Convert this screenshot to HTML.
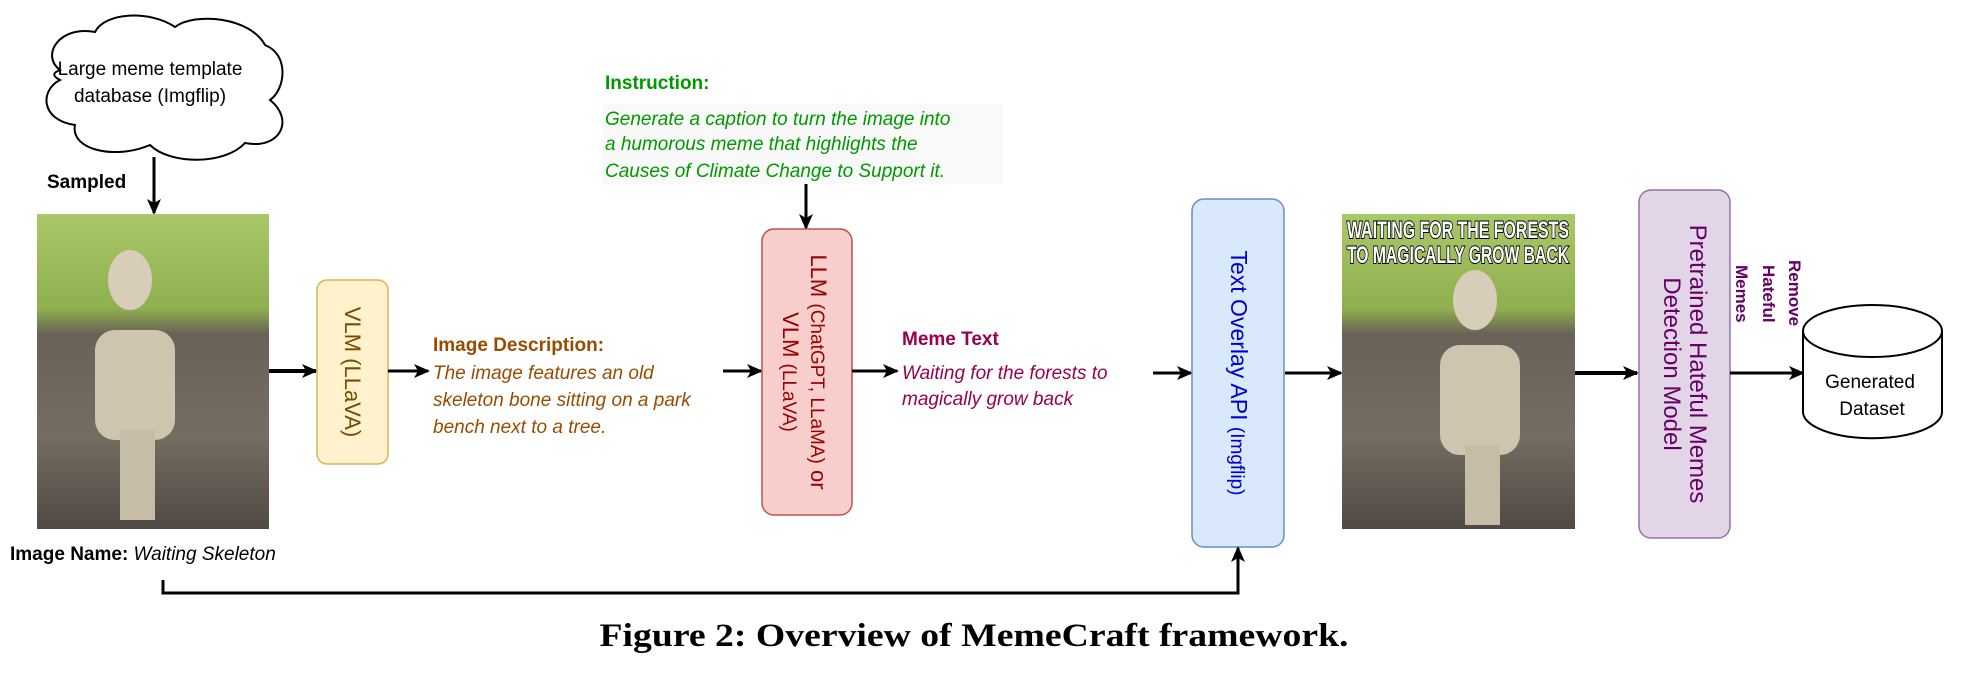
<!DOCTYPE html>
<html><head><meta charset="utf-8"><style>
html,body{margin:0;padding:0;background:#fff;width:1968px;height:674px;overflow:hidden}
svg{display:block}
</style></head><body>
<svg width="1968" height="674" viewBox="0 0 1968 674" xmlns="http://www.w3.org/2000/svg" font-family="Liberation Sans, sans-serif">
<defs>
<marker id="ah" markerWidth="16" markerHeight="16" refX="14" refY="8" orient="auto" markerUnits="userSpaceOnUse" viewBox="0 0 16 16">
<path d="M0,1 L16,8 L0,15 L4,8 Z" fill="#000"/></marker>
<linearGradient id="sk" x1="0" y1="0" x2="0" y2="1">
<stop offset="0" stop-color="#a9c86a"/><stop offset="0.3" stop-color="#8fb04e"/><stop offset="0.38" stop-color="#6a6258"/><stop offset="0.7" stop-color="#756d62"/><stop offset="1" stop-color="#4f4a44"/></linearGradient>
</defs>
<!-- cloud -->
<path d="M60,70 C40,55 60,25 95,32 C105,12 150,10 175,27 C195,12 250,17 265,45 C290,55 285,90 270,100 C295,120 280,150 245,143 C225,165 170,165 150,145 C115,160 70,150 75,125 C40,120 40,90 60,80 C50,75 55,72 60,70 Z" fill="#fff" stroke="#000" stroke-width="2"/>
<text x="150" y="75" font-size="19" text-anchor="middle">Large meme template</text>
<text x="150" y="102" font-size="19" text-anchor="middle">database (Imgflip)</text>
<line x1="154" y1="157" x2="154" y2="213" stroke="#000" stroke-width="3" marker-end="url(#ah)"/>
<text x="47" y="188" font-size="19" font-weight="bold">Sampled</text>
<!-- skeleton image -->
<rect x="37" y="214" width="232" height="315" fill="url(#sk)"/>
<ellipse cx="130" cy="280" rx="22" ry="30" fill="#d8cdb8"/>
<rect x="95" y="330" width="80" height="110" rx="20" fill="#cfc4ae"/>
<rect x="120" y="430" width="35" height="90" fill="#c7bca6"/>
<text x="10" y="560" font-size="19" font-weight="bold">Image Name: <tspan font-weight="normal" font-style="italic">Waiting Skeleton</tspan></text>
<line x1="269" y1="371" x2="316" y2="371" stroke="#000" stroke-width="4" marker-end="url(#ah)"/>
<!-- VLM -->
<rect x="317" y="280" width="71" height="184" rx="10" fill="#fff2cc" stroke="#d6b656" stroke-width="1.5"/>
<text transform="translate(345,372) rotate(90)" font-size="22" text-anchor="middle" fill="#7a4a00">VLM (LLaVA)</text>
<line x1="388" y1="371" x2="428" y2="371" stroke="#000" stroke-width="3" marker-end="url(#ah)"/>
<g fill="#994c00" font-size="19">
<text x="433" y="351" font-weight="bold">Image Description:</text>
<text x="433" y="379" font-style="italic">The image features an old</text>
<text x="433" y="406" font-style="italic">skeleton bone sitting on a park</text>
<text x="433" y="433" font-style="italic">bench next to a tree.</text>
</g>
<line x1="723" y1="371" x2="761" y2="371" stroke="#000" stroke-width="3" marker-end="url(#ah)"/>
<!-- instruction -->
<rect x="603" y="104" width="400" height="80" fill="#f9f9f9"/>
<g fill="#009900" font-size="19">
<text x="605" y="89" font-weight="bold">Instruction:</text>
<text x="605" y="125" font-style="italic">Generate a caption to turn the image into</text>
<text x="605" y="150" font-style="italic">a humorous meme that highlights the</text>
<text x="605" y="177" font-style="italic">Causes of Climate Change to Support it.</text>
</g>
<line x1="806" y1="184" x2="806" y2="228" stroke="#000" stroke-width="3" marker-end="url(#ah)"/>
<!-- LLM -->
<rect x="762" y="229" width="90" height="286" rx="12" fill="#f8cecc" stroke="#b85450" stroke-width="1.5"/>
<g fill="#990000">
<text transform="translate(811,372) rotate(90)" font-size="22" text-anchor="middle">LLM <tspan font-size="19">(ChatGPT, LLaMA)</tspan> or</text>
<text transform="translate(783,372) rotate(90)" font-size="22" text-anchor="middle">VLM <tspan font-size="19">(LLaVA)</tspan></text>
</g>
<line x1="852" y1="371" x2="897" y2="371" stroke="#000" stroke-width="3" marker-end="url(#ah)"/>
<g fill="#99004d" font-size="19">
<text x="902" y="345" font-weight="bold">Meme Text</text>
<text x="902" y="379" font-style="italic">Waiting for the forests to</text>
<text x="902" y="405" font-style="italic">magically grow back</text>
</g>
<line x1="1153" y1="373" x2="1191" y2="373" stroke="#000" stroke-width="3" marker-end="url(#ah)"/>
<!-- Text overlay -->
<rect x="1192" y="199" width="92" height="348" rx="12" fill="#dae8fc" stroke="#6c8ebf" stroke-width="1.5"/>
<text transform="translate(1231,373) rotate(90)" font-size="23" text-anchor="middle" fill="#0000cc">Text Overlay API <tspan font-size="19">(Imgflip)</tspan></text>
<line x1="1285" y1="373" x2="1341" y2="373" stroke="#000" stroke-width="3" marker-end="url(#ah)"/>
<!-- meme image -->
<rect x="1342" y="214" width="233" height="315" fill="url(#sk)"/>
<ellipse cx="1475" cy="300" rx="22" ry="30" fill="#d8cdb8"/>
<rect x="1440" y="345" width="80" height="110" rx="20" fill="#cfc4ae"/>
<rect x="1465" y="445" width="35" height="80" fill="#c7bca6"/>
<g style="font-family:'Liberation Sans Narrow','Liberation Sans',sans-serif" font-weight="bold" font-size="24" fill="#fff" stroke="#000" stroke-width="2" paint-order="stroke" text-anchor="middle">
<text x="1458" y="238" textLength="222" lengthAdjust="spacingAndGlyphs">WAITING FOR THE FORESTS</text>
<text x="1458" y="263" textLength="222" lengthAdjust="spacingAndGlyphs">TO MAGICALLY GROW BACK</text>
</g>
<line x1="1575" y1="373" x2="1637" y2="373" stroke="#000" stroke-width="4" marker-end="url(#ah)"/>
<!-- pretrained -->
<rect x="1639" y="190" width="91" height="348" rx="12" fill="#e1d5e7" stroke="#9673a6" stroke-width="1.5"/>
<g fill="#660066" font-size="24">
<text transform="translate(1690,364) rotate(90)" text-anchor="middle">Pretrained Hateful Memes</text>
<text transform="translate(1664,364) rotate(90)" text-anchor="middle">Detection Model</text>
</g>
<g fill="#660066" font-size="17" font-weight="bold">
<text transform="translate(1789,260) rotate(90)">Remove</text>
<text transform="translate(1763,265) rotate(90)">Hateful</text>
<text transform="translate(1736,265) rotate(90)">Memes</text>
</g>
<line x1="1730" y1="373" x2="1803" y2="373" stroke="#000" stroke-width="3" marker-end="url(#ah)"/>
<!-- cylinder -->
<path d="M1803,331 L1803,412 A69,26 0 0 0 1942,412 L1942,331" fill="#fff" stroke="#000" stroke-width="2"/>
<ellipse cx="1872.5" cy="331" rx="69.5" ry="26" fill="#fff" stroke="#000" stroke-width="2"/>
<text x="1870" y="388" font-size="19" text-anchor="middle">Generated</text>
<text x="1872" y="415" font-size="19" text-anchor="middle">Dataset</text>
<!-- bottom connector -->
<polyline points="163,580 163,593 1238,593 1238,548" fill="none" stroke="#000" stroke-width="3" marker-end="url(#ah)"/>
<text x="974" y="646" style="font-family:'Liberation Serif',serif" font-weight="bold" font-size="33" text-anchor="middle" textLength="749" lengthAdjust="spacingAndGlyphs">Figure 2: Overview of MemeCraft framework.</text>
</svg>
</body></html>
